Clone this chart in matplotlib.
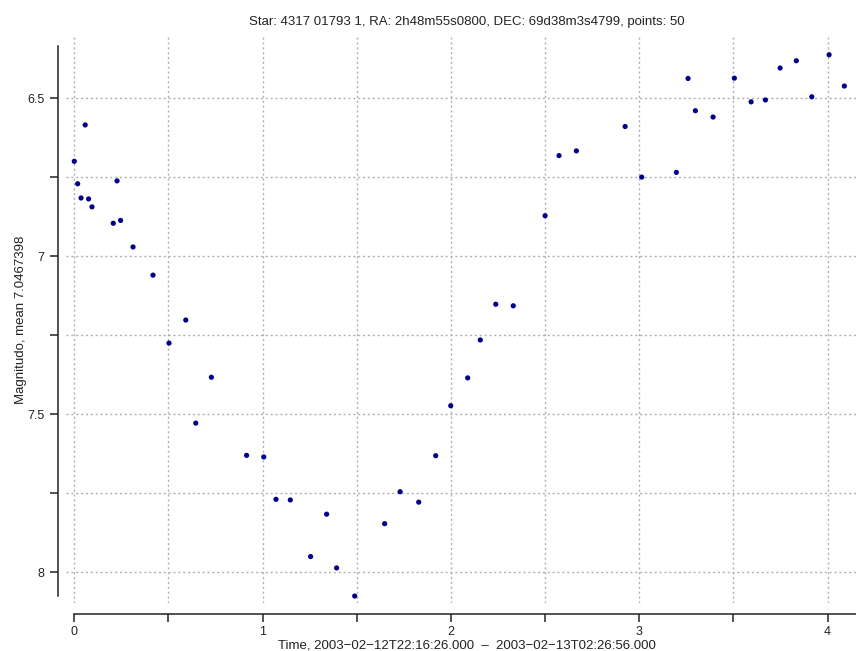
import numpy as np
import matplotlib
matplotlib.use("Agg")
import matplotlib.pyplot as plt

plt.rcParams['font.family'] = ['Liberation Sans', 'DejaVu Sans']

# time in hours since start, magnitude
time_h = [0.000, 0.018, 0.036, 0.058, 0.076, 0.094, 0.207, 0.227, 0.246, 0.312,
          0.418, 0.503, 0.592, 0.645, 0.728, 0.915, 1.006, 1.071, 1.147, 1.255,
          1.340, 1.393, 1.489, 1.648, 1.730, 1.829, 1.919, 1.999, 2.089, 2.156,
          2.238, 2.331, 2.500, 2.574, 2.666, 2.925, 3.013, 3.197, 3.259, 3.298,
          3.392, 3.505, 3.594, 3.670, 3.748, 3.834, 3.916, 4.008, 4.089]
magnitude = [6.700, 6.771, 6.816, 6.585, 6.819, 6.844, 6.896, 6.762, 6.887, 6.971,
             7.060, 7.275, 7.202, 7.528, 7.383, 7.630, 7.635, 7.769, 7.771, 7.950,
             7.816, 7.986, 8.075, 7.846, 7.745, 7.778, 7.631, 7.473, 7.385, 7.265,
             7.152, 7.157, 6.872, 6.682, 6.667, 6.590, 6.750, 6.735, 6.438, 6.540,
             6.560, 6.437, 6.512, 6.506, 6.405, 6.382, 6.496, 6.363, 6.462]

x_ticks = [0, 0.5, 1, 1.5, 2, 2.5, 3, 3.5, 4]
x_labels = ['0', '', '1', '', '2', '', '3', '', '4']
y_ticks = [6.5, 6.75, 7, 7.25, 7.5, 7.75, 8]
y_labels = ['6.5', '', '7', '', '7.5', '', '8']

title = "Star: 4317 01793 1, RA: 2h48m55s0800, DEC: 69d38m3s4799, points: 50"
xlabel = "Time, 2003\u221202\u221212T22:16:26.000  \u2013  2003\u221202\u221213T02:26:56.000"
ylabel = "Magnitudo, mean 7.0467398"

fig = plt.figure(figsize=(8.56, 6.51), dpi=100)
ax = fig.add_axes([0.0771, 0.0737, 0.937, 0.8694])

ax.set_xlim(-0.044, 4.215)
ax.set_ylim(8.097, 6.307)

# dotted grid
for xv in x_ticks:
    ax.axvline(xv, color='#b0b0b0', lw=1.0, ls=(0, (1.5, 2)), zorder=1)
for yv in y_ticks:
    ax.axhline(yv, color='#b0b0b0', lw=1.0, ls=(0, (1.5, 2)), zorder=1)

ax.scatter(time_h, magnitude, s=14, color='#00008B', edgecolors='none', zorder=3)

ax.set_xticks(x_ticks)
ax.set_xticklabels(x_labels)
ax.set_yticks(y_ticks)
ax.set_yticklabels(y_labels)

for s in ['top', 'right']:
    ax.spines[s].set_visible(False)
ax.spines['left'].set_position(('outward', 6))
ax.spines['bottom'].set_position(('outward', 8))
ax.spines['left'].set_bounds(6.3355, 8.074)
ax.spines['bottom'].set_bounds(0, 4.215)
for s in ['left', 'bottom']:
    ax.spines[s].set_linewidth(1.1)
    ax.spines[s].set_color('#222222')

ax.tick_params(axis='both', direction='out', length=6, width=1.1,
               color='#222222', labelsize=9, labelcolor='#222222')
ax.tick_params(axis='x', pad=2.5)
ax.tick_params(axis='y', pad=3.5)

ax.set_title(title, fontsize=9.5, pad=9, color='#222222')
ax.set_xlabel(xlabel, fontsize=9.5, labelpad=1, color='#222222')
ax.set_ylabel(ylabel, fontsize=9.5, labelpad=0, color='#222222')

fig.savefig('out.png', dpi=100)
